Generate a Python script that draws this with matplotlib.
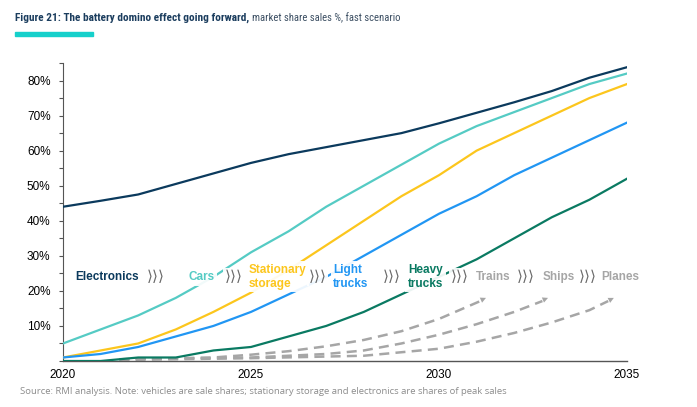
import matplotlib
matplotlib.use("Agg")
import matplotlib.pyplot as plt
from matplotlib import font_manager
from matplotlib.ticker import MultipleLocator, FuncFormatter

# Datos
years = [2020, 2021, 2022, 2023, 2024, 2025, 2026, 2027, 2028, 2029,
         2030, 2031, 2032, 2033, 2034, 2035]
electronics = [44, 45.7, 47.5, 50.5, 53.5, 56.5, 59, 61, 63, 65,
               67.8, 70.8, 73.8, 77, 80.8, 83.8]
cars = [5, 9, 13, 18, 24, 31, 37, 44, 50, 56, 62, 67, 71, 75, 79, 82]
stationary = [1, 3, 5, 9, 14, 19.5, 26, 33, 40, 47, 53, 60, 65, 70, 75, 79]
light_trucks = [1, 2, 4, 7, 10, 14, 19, 24, 30, 36, 42, 47, 53, 58, 63, 68]
heavy_trucks = [0, 0, 1, 1, 3, 4, 7, 10, 14, 19, 24, 29, 35, 41, 46, 52]

# Curvas ilustrativas (discontinuas)
trains_x = [2021.5, 2024, 2025, 2026, 2027, 2028, 2029, 2030, 2031.25]
trains_y = [0.5, 1, 1.8, 2.8, 4.2, 6, 8.5, 12, 18]
ships_x = [2021.5, 2025, 2027, 2028, 2029, 2030, 2031, 2032, 2032.9]
ships_y = [0.5, 1, 2, 3, 5, 7.5, 10.5, 14, 18]
planes_x = [2021.5, 2025, 2028, 2029, 2030, 2031, 2032, 2033, 2034, 2034.65]
planes_y = [0.3, 0.8, 1.5, 2.5, 3.5, 5.5, 8, 11, 14.5, 18]

labels = ["Electronics", "Cars", "Stationary\nstorage", "Light\ntrucks",
          "Heavy\ntrucks", "Trains", "Ships", "Planes"]

navy = "#0b3a5d"
turq = "#55cbc4"
yellow = "#fcc61d"
blue = "#2196f3"
green = "#0a7a62"
gray = "#a6a6a6"
label_colors = [navy, turq, yellow, blue, green, gray, gray, gray]
label_x = [2020.32, 2023.33, 2024.93, 2027.19, 2029.17, 2030.98, 2032.76, 2034.31]
chevron_x = [2022.48, 2024.53, 2026.77, 2028.74, 2030.55, 2032.31, 2033.96]

plt.rcParams['font.family'] = ['Liberation Sans', 'DejaVu Sans']

# Fuente del titulo: usar una condensada si existe
title_font = 'Open Sans'
for fam in ['Roboto Condensed', 'Open Sans Condensed', 'Liberation Sans Narrow']:
    try:
        font_manager.findfont(fam, fallback_to_default=False)
        title_font = fam
        break
    except Exception:
        pass

fig = plt.figure(figsize=(6.97, 4.07), dpi=100)
ax = fig.add_axes([63 / 697, 46 / 407, 564 / 697, 298 / 407])

lw = 1.6
ax.plot(years, electronics, color=navy, lw=lw, zorder=3)
ax.plot(years, cars, color=turq, lw=lw, zorder=3)
ax.plot(years, stationary, color=yellow, lw=lw, zorder=3)
ax.plot(years, light_trucks, color=blue, lw=lw, zorder=3)
ax.plot(years, heavy_trucks, color=green, lw=lw, zorder=3)

for xs, ys in [(trains_x, trains_y), (ships_x, ships_y), (planes_x, planes_y)]:
    ax.plot(xs[:-1] + [xs[-1] - 0.15], ys[:-1] + [ys[-1] - 0.9], color=gray,
            lw=1.8, ls=(0, (4, 2.5)), zorder=2)
    ax.annotate('', xy=(xs[-1], ys[-1]), xytext=(xs[-2], ys[-2]),
                arrowprops=dict(arrowstyle='-|>', color=gray, lw=0,
                                mutation_scale=10, shrinkA=0, shrinkB=0),
                zorder=2)

# Etiquetas con caja blanca
for txt, x, c in zip(labels, label_x, label_colors):
    ax.text(x, 24, txt, color=c, fontsize=8.5, fontweight='bold', ha='left',
            va='center', linespacing=1.15, zorder=5,
            bbox=dict(facecolor='white', edgecolor='none', alpha=0.92, pad=2))
for x in chevron_x:
    ax.text(x, 24, "\u27e9\u27e9\u27e9", color="#6b6b6b", fontsize=11,
            family='DejaVu Sans', ha='center', va='center', zorder=5,
            bbox=dict(facecolor='white', edgecolor='none', alpha=0.92, pad=1))

ax.set_xlim(2020, 2035)
ax.set_ylim(0, 85)
ax.set_xticks([2020, 2025, 2030, 2035])
ax.tick_params(axis='x', length=0, labelsize=8.5, pad=6, colors='black')
ax.yaxis.set_major_locator(MultipleLocator(10))
ax.yaxis.set_minor_locator(MultipleLocator(5))
ax.yaxis.set_major_formatter(FuncFormatter(lambda v, p: f"{v:.0f}%" if v > 0 else ""))
ax.tick_params(axis='y', which='both', length=3, width=0.8, color='#555555',
               direction='out', labelsize=8.5, pad=6)
for s in ['top', 'right']:
    ax.spines[s].set_visible(False)
ax.spines['left'].set_color('#555555')
ax.spines['bottom'].set_color('#555555')
ax.spines['left'].set_linewidth(0.8)
ax.spines['bottom'].set_linewidth(1.0)

# Titulo en dos partes, ajustando el tamano al ancho del original
t1 = fig.text(15 / 697, 1 - 18 / 407, "Figure 21: The battery domino effect going forward,",
              fontsize=9.5, fontweight='bold', color='#1b3d5e', va='center',
              family=title_font)
t2 = fig.text(0, 1 - 18 / 407, "market share sales %, fast scenario",
              fontsize=9.5, color='#3c4f63', va='center', family=title_font)
fig.canvas.draw()
r = fig.canvas.get_renderer()
w1 = t1.get_window_extent(r).width
w2 = t2.get_window_extent(r).width
t1.set_fontsize(9.5 * 234 / w1)
t2.set_fontsize(9.5 * 148 / w2)
fig.canvas.draw()
bb = t1.get_window_extent(r)
t2.set_x((bb.x1 + 3) / 697)

fig.patches.append(plt.Rectangle((15 / 697, 1 - 36 / 407), 78 / 697, 3.5 / 407,
                                 transform=fig.transFigure, color='#16d0cb'))

fig.text(20 / 697, 1 - 392 / 407,
         "Source: RMI analysis. Note: vehicles are sale shares; stationary storage and electronics are shares of peak sales",
         fontsize=6.8, color='#8c8c8c', va='center', family='Open Sans')

plt.savefig("out.png", dpi=100)
